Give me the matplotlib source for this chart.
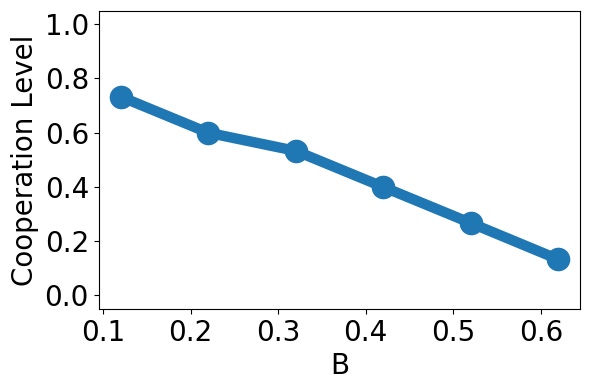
import matplotlib
matplotlib.use("Agg")
import matplotlib.pyplot as plt

B = [0.12, 0.22, 0.32, 0.42, 0.52, 0.62]
coop = [0.733, 0.600, 0.533, 0.400, 0.267, 0.133]

fig = plt.figure(figsize=(5.89, 3.9), dpi=100)
ax = fig.add_axes([0.1676, 0.2077, 0.985 - 0.1676, 0.9726 - 0.2077])
ax.plot(B, coop, color="#1f77b4", linewidth=7.5, marker="o", markersize=16)
ax.set_ylim(-0.05, 1.05)
ax.set_yticks([0.0, 0.2, 0.4, 0.6, 0.8, 1.0])
ax.set_xticks([0.1, 0.2, 0.3, 0.4, 0.5, 0.6])
ax.tick_params(labelsize=20)
ax.set_xlabel("B", fontsize=20)
ax.set_ylabel("Cooperation Level", fontsize=20)
fig.savefig("out.png", dpi=100)
